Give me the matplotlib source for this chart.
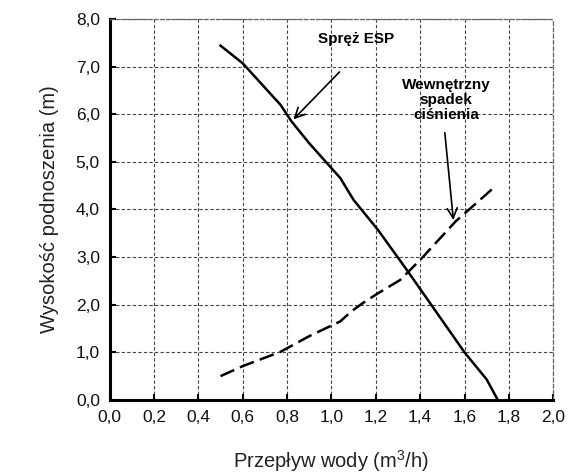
import numpy as np
import matplotlib
matplotlib.use("Agg")
import matplotlib.pyplot as plt

plt.rcParams['font.family'] = ['Liberation Sans', 'DejaVu Sans']
plt.rcParams['mathtext.fontset'] = 'custom'
plt.rcParams['mathtext.rm'] = 'Liberation Sans'
plt.rcParams['mathtext.it'] = 'Liberation Sans'

# Spręż ESP (linia ciągła)
esp_x = [0.50, 0.60, 0.77, 0.82, 0.90, 1.04, 1.10, 1.21, 1.34, 1.60, 1.70, 1.75]
esp_y = [7.44, 7.07, 6.20, 5.85, 5.39, 4.66, 4.20, 3.57, 2.73, 1.00, 0.43, 0.00]

# Wewnętrzny spadek ciśnienia (linia przerywana)
dp_x = [0.50, 0.60, 0.77, 0.90, 1.04, 1.09, 1.14, 1.21, 1.31, 1.40, 1.56, 1.73]
dp_y = [0.50, 0.71, 1.01, 1.34, 1.65, 1.86, 2.03, 2.24, 2.52, 2.94, 3.75, 4.45]

x_ticks = np.arange(0, 2.01, 0.2)
y_ticks = np.arange(0, 8.01, 1.0)

fig = plt.figure(figsize=(5.68, 4.75), dpi=100)
ax = fig.add_axes([0.193, 0.158, 0.781, 0.802])

ax.plot(esp_x, esp_y, color='black', lw=1.8, solid_joinstyle='miter')
ax.plot(dp_x, dp_y, color='black', lw=1.8, dashes=(6, 2.5))

ax.set_xlim(0, 2.0)
ax.set_ylim(0, 8.0)
ax.set_xticks(x_ticks)
ax.set_yticks(y_ticks)
ax.set_xticklabels([f"{v:.1f}".replace('.', ',') for v in x_ticks])
ax.set_yticklabels([f"{v:.1f}".replace('.', ',') for v in y_ticks])
ax.tick_params(direction='in', length=4, width=1.5, labelsize=12.5, pad=7,
               labelcolor='#111111')

ax.grid(True, ls=(0, (3, 2)), color='#444444', lw=0.8)
for s in ['top', 'right']:
    ax.spines[s].set_linestyle((0, (3, 2)))
    ax.spines[s].set_color('#666666')
    ax.spines[s].set_linewidth(0.9)
for s in ['left', 'bottom']:
    ax.spines[s].set_linewidth(2.2)

ax.set_xlabel('Przepływ wody (m$^3$/h)', fontsize=14.5, color='#222222', labelpad=17)
ax.set_ylabel('Wysokość podnoszenia (m)', fontsize=14.5, color='#222222', labelpad=12)

ax.annotate('Spręż ESP', xy=(0.82, 5.85), xytext=(1.11, 7.59),
            fontsize=11, fontweight='bold', ha='center', va='center')
ax.annotate('', xy=(0.82, 5.85), xytext=(1.045, 6.93),
            arrowprops=dict(arrowstyle='->', lw=1.2, color='black',
                            mutation_scale=18))
ax.text(1.518, 6.30, 'Wewnętrzny\nspadek\nciśnienia', fontsize=11,
        fontweight='bold', ha='center', va='center', linespacing=1.1)
ax.annotate('', xy=(1.551, 3.72), xytext=(1.51, 5.67),
            arrowprops=dict(arrowstyle='->', lw=1.2, color='black',
                            mutation_scale=18))

fig.savefig('out.png', dpi=100)
